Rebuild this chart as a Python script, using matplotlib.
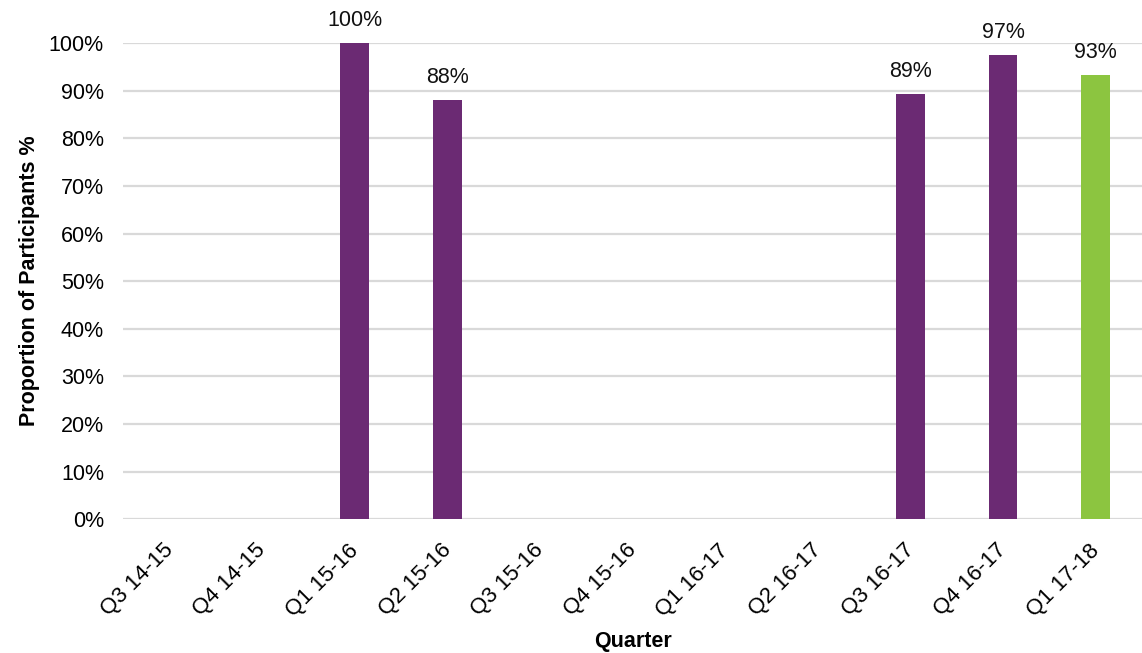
import matplotlib.pyplot as plt

plt.rcParams['font.family'] = ['Liberation Sans', 'DejaVu Sans']

quarters = ["Q3 14-15", "Q4 14-15", "Q1 15-16", "Q2 15-16", "Q3 15-16", "Q4 15-16",
            "Q1 16-17", "Q2 16-17", "Q3 16-17", "Q4 16-17", "Q1 17-18"]
# None = no data for that quarter
proportion = [None, None, 100.0, 88.0, None, None, None, None, 89.3, 97.4, 93.2]
bar_colors = ["#6b2a73"] * 10 + ["#8cc540"]

fig = plt.figure(figsize=(11.42, 6.53), dpi=100)
ax = fig.add_axes([0.108, 0.205, 0.892, 0.729])

x = list(range(len(quarters)))
for i, v in enumerate(proportion):
    if v is None:
        continue
    ax.bar(i, v, width=0.31, color=bar_colors[i], zorder=3)
    ax.annotate(f"{v:.0f}%", (i, v), xytext=(0, 9), textcoords='offset points',
                ha='center', va='bottom', fontsize=15.5, color='#111111')

ax.set_xlim(-0.5, len(quarters) - 0.5)
ax.set_ylim(0, 100)
ax.set_yticks(range(0, 101, 10))
ax.set_yticklabels([f"{t}%" for t in range(0, 101, 10)], fontsize=15.5)

# slanted category labels under each slot
ax.set_xticks(x)
ax.set_xticklabels([])
for i, q in enumerate(quarters):
    ax.annotate(q, (i, 0), xytext=(-5, -15), textcoords='offset points',
                rotation=45, ha='right', va='top', rotation_mode='anchor',
                fontsize=16, annotation_clip=False)

ax.grid(axis='y', color='#d9d9d9', linewidth=1.6, zorder=0)
for s in ['top', 'right', 'left', 'bottom']:
    ax.spines[s].set_visible(False)
ax.tick_params(axis='both', length=0)
ax.tick_params(axis='y', pad=14)

ax.set_xlabel("Quarter", fontsize=15.5, fontweight='bold')
ax.xaxis.set_label_coords(0.5, -0.235)
ax.set_ylabel("Proportion of Participants %", fontsize=15.5, fontweight='bold', labelpad=6)

fig.savefig("out.png", dpi=100)
